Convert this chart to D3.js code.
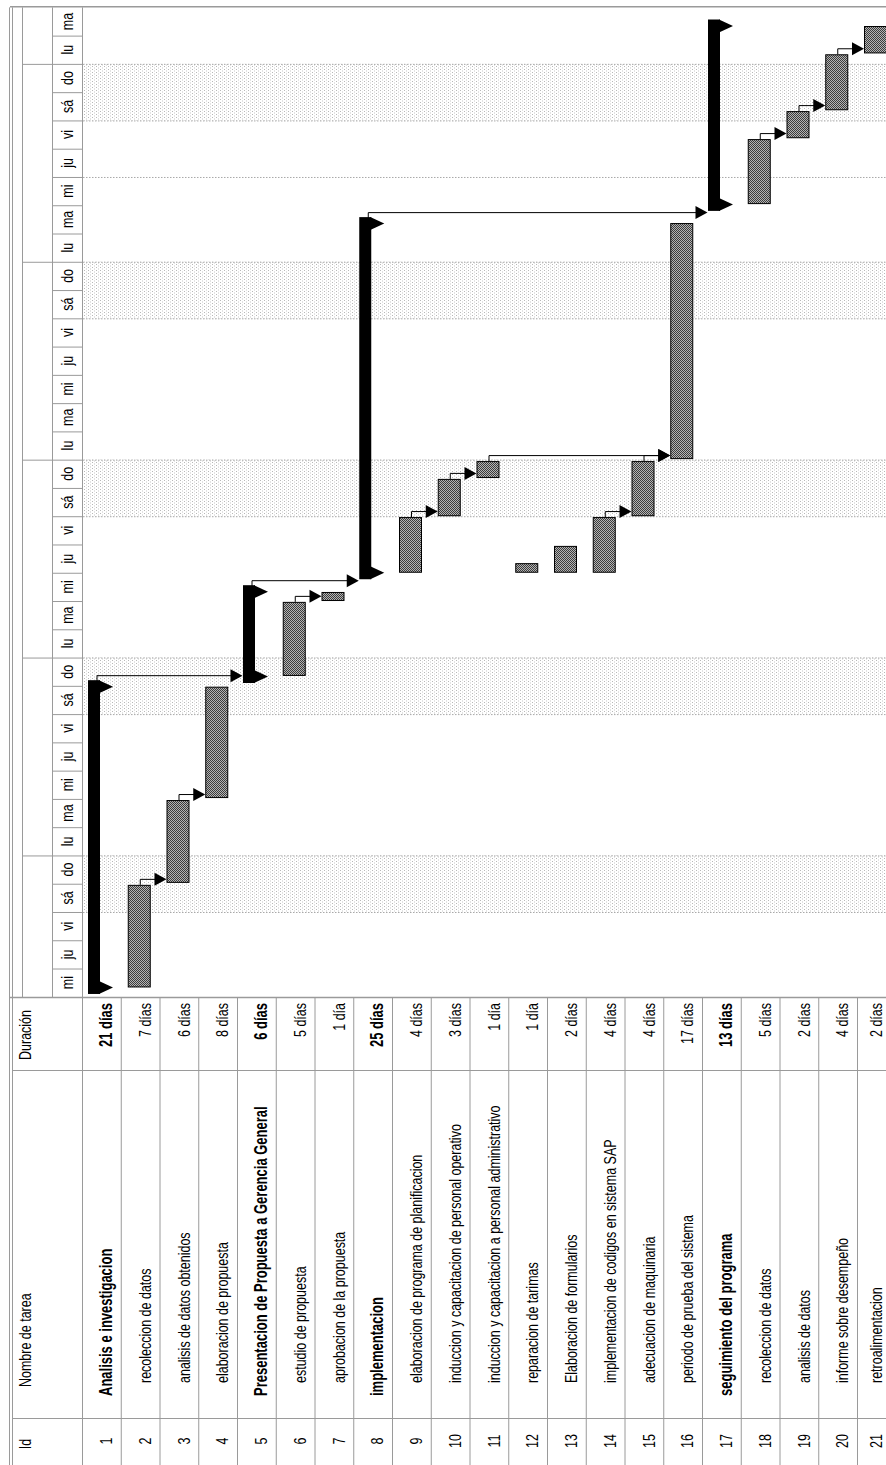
<!DOCTYPE html>
<html>
<head>
<meta charset="utf-8">
<script src="https://cdn.jsdelivr.net/npm/d3@7"></script>
<style>
  html, body { margin: 0; padding: 0; background: #fff; }
  svg { display: block; }
  text { font-family: "Liberation Sans", Arial, sans-serif; fill: #000; }
</style>
</head>
<body>
<svg id="chart" width="886" height="1465"></svg>
<script>
// task table
var ids = d3.range(1, 22);
var names = [
  "Analisis e investigacion", "recoleccion de datos", "analisis de datos obtenidos",
  "elaboracion de propuesta", "Presentacion de Propuesta a Gerencia General",
  "estudio de propuesta", "aprobacion de la propuesta", "implementacion",
  "elaboracion de programa de planificacion", "induccion y capacitacion de personal operativo",
  "induccion y capacitacion a personal administrativo", "reparacion de tarimas",
  "Elaboracion de formularios", "implementacion de codigos en sistema SAP",
  "adecuacion de maquinaria", "periodo de prueba del sistema", "seguimiento del programa",
  "recoleccion de datos", "analisis de datos", "informe sobre desempeño", "retroalimentacion"
];
var durations = ["21 días", "7 días", "6 días", "8 días", "6 días", "5 días", "1 día",
  "25 días", "4 días", "3 días", "1 día", "1 día", "2 días", "4 días", "4 días",
  "17 días", "13 días", "5 días", "2 días", "4 días", "2 días"];
var summary = [1, 0, 0, 0, 1, 0, 0, 1, 0, 0, 0, 0, 0, 0, 0, 0, 1, 0, 0, 0, 0];

// bar start / finish, in days from the first wednesday
var starts = [0.33, 0.33, 4.03, 7.03, 11.33, 11.35, 14.0, 15.0, 15.0, 17.0, 18.35,
  15.0, 15.0, 15.0, 17.0, 19.02, 28.03, 28.04, 30.37, 31.36, 33.37];
var finishes = [10.97, 3.96, 6.96, 10.97, 14.33, 13.97, 14.32, 27.35, 16.97, 18.32, 18.95,
  15.34, 15.95, 16.97, 18.95, 27.37, 34.34, 30.34, 31.33, 33.34, 34.34];

// predecessor -> successor
var links = [[1, 5], [2, 3], [3, 4], [5, 8], [6, 7], [8, 17], [9, 10], [10, 11],
  [11, 16], [14, 15], [15, 16], [18, 19], [19, 20], [20, 21]];

// timescale
var dayNames = ["mi", "ju", "vi", "sá", "do", "lu", "ma"];
var nDays = 35;
var weekendDays = [3, 10, 17, 24, 31];   // first day (sábado) of each shaded pair
var markerDay = 29;                       // single dotted line

var svg = d3.select("#chart");
var defs = svg.append("defs");

// weekend shading pattern
var wp = defs.append("pattern").attr("id", "wkend")
  .attr("width", 4).attr("height", 3).attr("patternUnits", "userSpaceOnUse");
wp.append("rect").attr("width", 4).attr("height", 3).attr("fill", "#fff");
wp.append("rect").attr("x", 0).attr("y", 0).attr("width", 1).attr("height", 1).attr("fill", "#b8b8b8");
wp.append("rect").attr("x", 2).attr("y", 1.5).attr("width", 1).attr("height", 1).attr("fill", "#c8c8c8");

// task bar pattern
var bp = defs.append("pattern").attr("id", "barfill")
  .attr("width", 2).attr("height", 2).attr("patternUnits", "userSpaceOnUse");
bp.append("rect").attr("width", 2).attr("height", 2).attr("fill", "#b4b4b4");
bp.append("rect").attr("x", 0).attr("y", 0).attr("width", 1).attr("height", 1).attr("fill", "#3c3c3c");
bp.append("rect").attr("x", 1).attr("y", 1).attr("width", 1).attr("height", 1).attr("fill", "#3c3c3c");

var y = d3.scaleLinear().domain([0, nDays]).range([996.8, 7.35]);
var x = d3.scaleBand().domain(ids).range([83, 83 + 21 * 38.75]);
var rs = function(id) { return x(id); };

var grid = "#9a9a9a";
var left = 10, hdrTop = 13, tierLine = 23, dayTier = 53, hdrEnd = 83;
var splitY = 997, colDur = 1070, colId = 1418, bottomY = 1465;

// ---------- gantt ----------
var g = svg.append("g");

// weekends
weekendDays.forEach(function(d) {
  var y1 = y(d + 2), y2 = y(d);
  var top = Math.max(y1, y(nDays));
  g.append("rect").attr("x", hdrEnd).attr("y", top).attr("width", 886 - hdrEnd)
    .attr("height", y2 - top).attr("fill", "url(#wkend)");
  [top, y2].forEach(function(yy) {
    g.append("line").attr("x1", hdrEnd).attr("x2", 886).attr("y1", yy + 0.5).attr("y2", yy + 0.5)
      .attr("stroke", "#a8a8a8").attr("stroke-dasharray", "1.5,1.5");
  });
});
g.append("line").attr("x1", hdrEnd).attr("x2", 886)
  .attr("y1", y(markerDay) + 0.5).attr("y2", y(markerDay) + 0.5)
  .attr("stroke", "#a8a8a8").attr("stroke-dasharray", "1.5,1.5");

// links
var bw0 = 6, bw1 = 29;
links.forEach(function(l) {
  var p = l[0] - 1, s = l[1] - 1;
  var px = summary[p] ? rs(l[0]) + 13.5 : rs(l[0]) + 18;
  var yl = summary[p] ? y(finishes[p]) - 11.5 : y(finishes[p]) - 6;
  var tip = summary[s] ? rs(l[1]) + 4.5 : rs(l[1]) + bw0;
  var path = d3.path();
  path.moveTo(px + 0.5, y(finishes[p]));
  path.lineTo(px + 0.5, yl + 0.5);
  path.lineTo(tip - 11, yl + 0.5);
  g.append("path").attr("d", path.toString()).attr("fill", "none")
    .attr("stroke", "#000").attr("stroke-width", 1);
  g.append("path")
    .attr("d", d3.line()([[tip - 12, yl - 6], [tip, yl + 0.5], [tip - 12, yl + 7]]) + "Z")
    .attr("fill", "#000");
});

// task bars
ids.forEach(function(id, i) {
  var r = rs(id);
  var ys = y(starts[i]), yf = y(finishes[i]);
  if (summary[i]) {
    g.append("rect").attr("x", r + 5).attr("y", yf - 6.5).attr("width", 12)
      .attr("height", ys - yf + 13).attr("fill", "#000");
    [ys, yf].forEach(function(yc) {
      g.append("path")
        .attr("d", d3.line()([[r + 16, yc - 6.5], [r + 30, yc], [r + 16, yc + 6.5]]) + "Z")
        .attr("fill", "#000");
    });
  } else {
    g.append("rect").attr("x", r + bw0 + 0.5).attr("y", yf + 0.5).attr("width", bw1 - bw0 - 1)
      .attr("height", Math.max(ys - yf - 1, 1)).attr("fill", "url(#barfill)")
      .attr("stroke", "#000").attr("stroke-width", 1);
  }
});

// ---------- timescale header ----------
var h = svg.append("g");
h.append("rect").attr("x", left).attr("y", y(nDays)).attr("width", hdrEnd - left)
  .attr("height", splitY - y(nDays)).attr("fill", "#fff");
d3.range(nDays).forEach(function(d) {
  var yc = (y(d) + y(d + 1)) / 2;
  h.append("text").attr("transform", "translate(" + 73 + "," + yc + ") rotate(-90) scale(1,1.35)")
    .attr("text-anchor", "middle").attr("font-size", 12.5).text(dayNames[d % 7]);
  if (d > 0) {
    h.append("line").attr("x1", dayTier).attr("x2", hdrEnd).attr("y1", y(d) + 0.5).attr("y2", y(d) + 0.5)
      .attr("stroke", grid);
  }
  if (d % 7 === 5) {
    h.append("line").attr("x1", tierLine).attr("x2", dayTier).attr("y1", y(d) + 0.5).attr("y2", y(d) + 0.5)
      .attr("stroke", grid);
  }
});
[left - 0.5, hdrTop - 0.5, tierLine - 0.5, dayTier - 0.5, hdrEnd - 0.5].forEach(function(xx) {
  h.append("line").attr("x1", xx).attr("x2", xx).attr("y1", y(nDays)).attr("y2", splitY)
    .attr("stroke", grid);
});
h.append("line").attr("x1", left).attr("x2", 886).attr("y1", y(nDays) - 0.5).attr("y2", y(nDays) - 0.5)
  .attr("stroke", grid).attr("stroke-width", 1.5);

// ---------- table ----------
var t = svg.append("g");
t.append("line").attr("x1", left).attr("x2", 886).attr("y1", splitY + 0.5).attr("y2", splitY + 0.5)
  .attr("stroke", grid).attr("stroke-width", 1.5);
[colDur, colId].forEach(function(yy) {
  t.append("line").attr("x1", hdrTop).attr("x2", 886).attr("y1", yy + 0.5).attr("y2", yy + 0.5)
    .attr("stroke", grid);
});
[left - 0.5, hdrTop - 0.5].forEach(function(xx) {
  t.append("line").attr("x1", xx).attr("x2", xx).attr("y1", splitY).attr("y2", bottomY)
    .attr("stroke", grid);
});
d3.range(22).forEach(function(i) {
  var xx = 83 + i * 38.75;
  t.append("line").attr("x1", xx - 0.5).attr("x2", xx - 0.5).attr("y1", splitY).attr("y2", bottomY)
    .attr("stroke", grid);
});

function vtext(sel, tx, ty, anchor, size, bold, str) {
  return sel.append("text")
    .attr("transform", "translate(" + tx + "," + ty + ") rotate(-90) scale(1,1.35)")
    .attr("text-anchor", anchor).attr("font-size", size)
    .attr("font-weight", bold ? "bold" : "normal").text(str);
}

vtext(t, 31, 1444, "middle", 12.5, false, "Id");
vtext(t, 31, 1387, "start", 12.5, false, "Nombre de tarea");
vtext(t, 31, 1035, "middle", 12.5, false, "Duración");

ids.forEach(function(id, i) {
  // baseline near the row's right edge; the last row is cut by the frame, keep its text inside
  var bx = Math.min(rs(id) + 29, 882);
  vtext(t, bx, 1441, "middle", 12.5, false, String(id));
  vtext(t, bx, summary[i] ? 1396 : 1383, "start", summary[i] ? 13 : 12.5, summary[i], names[i]);
  vtext(t, bx, 1003, "end", summary[i] ? 13 : 12.5, summary[i], durations[i]);
});
</script>
</body>
</html>
